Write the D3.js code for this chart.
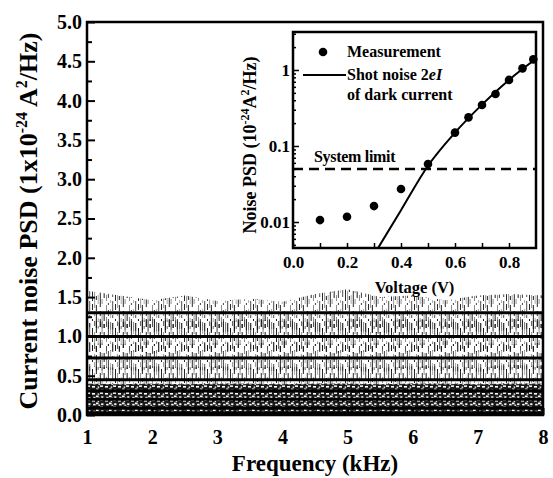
<!DOCTYPE html>
<html>
<head>
<meta charset="utf-8">
<script src="https://cdn.jsdelivr.net/npm/d3@7/dist/d3.min.js"></script>
<style>
  body { margin: 0; background: #fff; }
  svg { display: block; }
  text { font-family: "Liberation Serif", "Times New Roman", serif; font-weight: bold; fill: #000; }
</style>
</head>
<body>
<svg id="chart" width="553" height="478"></svg>
<script>
// ---- main panel: noise spectra ----
const freqKHz = [1, 1.5, 2, 2.5, 3, 3.5, 4, 4.5, 5, 5.5, 6, 6.5, 7, 7.5, 8]
// thick lines: mean PSD level of each spectrum
const levels = [1.30, 1.00, 0.725, 0.45, 0.31, 0.20, 0.09, 0.03]
// rough upper / lower noise envelope of each spectrum, read at freqKHz
const noiseHi = [
  [1.58, 1.52, 1.46, 1.52, 1.45, 1.48, 1.44, 1.54, 1.60, 1.50, 1.52, 1.46, 1.52, 1.54, 1.52],
  [1.20, 1.18, 1.22, 1.20, 1.18, 1.22, 1.20, 1.18, 1.22, 1.20, 1.22, 1.18, 1.20, 1.22, 1.20],
  [0.92, 0.90, 0.94, 0.90, 0.92, 0.90, 0.94, 0.92, 0.90, 0.92, 0.90, 0.94, 0.92, 0.90, 0.92],
  [0.62, 0.60, 0.62, 0.60, 0.62, 0.60, 0.62, 0.60, 0.62, 0.60, 0.62, 0.62, 0.60, 0.64, 0.62],
  [0.40, 0.39, 0.40, 0.39, 0.40, 0.40, 0.39, 0.40, 0.40, 0.39, 0.40, 0.40, 0.39, 0.40, 0.40],
  [0.28, 0.27, 0.28, 0.27, 0.28, 0.28, 0.27, 0.28, 0.28, 0.27, 0.28, 0.28, 0.27, 0.28, 0.28],
  [0.16, 0.15, 0.16, 0.15, 0.16, 0.16, 0.15, 0.16, 0.16, 0.15, 0.16, 0.16, 0.15, 0.16, 0.16],
  [0.07, 0.07, 0.07, 0.07, 0.07, 0.07, 0.07, 0.07, 0.07, 0.07, 0.07, 0.07, 0.07, 0.07, 0.07]
]
const noiseLo = [
  [1.12, 1.08, 1.06, 1.10, 1.05, 1.08, 1.10, 1.06, 1.08, 1.04, 1.08, 1.10, 1.06, 1.08, 1.10],
  [0.80, 0.82, 0.78, 0.82, 0.80, 0.84, 0.80, 0.82, 0.78, 0.82, 0.80, 0.82, 0.80, 0.82, 0.82],
  [0.56, 0.58, 0.55, 0.58, 0.56, 0.58, 0.55, 0.58, 0.56, 0.55, 0.58, 0.56, 0.55, 0.58, 0.58],
  [0.36, 0.37, 0.36, 0.37, 0.36, 0.37, 0.36, 0.37, 0.36, 0.37, 0.36, 0.37, 0.36, 0.37, 0.37],
  [0.25, 0.25, 0.25, 0.25, 0.25, 0.25, 0.25, 0.25, 0.25, 0.25, 0.25, 0.25, 0.25, 0.25, 0.25],
  [0.14, 0.14, 0.14, 0.14, 0.14, 0.14, 0.14, 0.14, 0.14, 0.14, 0.14, 0.14, 0.14, 0.14, 0.14],
  [0.05, 0.05, 0.05, 0.05, 0.05, 0.05, 0.05, 0.05, 0.05, 0.05, 0.05, 0.05, 0.05, 0.05, 0.05],
  [0.005, 0.005, 0.005, 0.005, 0.005, 0.005, 0.005, 0.005, 0.005, 0.005, 0.005, 0.005, 0.005, 0.005, 0.005]
]
const yTicks = [0, 0.5, 1, 1.5, 2, 2.5, 3, 3.5, 4, 4.5, 5]
const xTicks = [1, 2, 3, 4, 5, 6, 7, 8]

// ---- inset: PSD vs voltage ----
const voltage = [0.1, 0.2, 0.3, 0.4, 0.5, 0.6, 0.65, 0.7, 0.75, 0.8, 0.85, 0.89]
const measured = [0.0106, 0.0117, 0.0162, 0.0272, 0.058, 0.150, 0.238, 0.346, 0.483, 0.74, 1.05, 1.38]
const shotV = [0.316, 0.4, 0.5, 0.6, 0.7, 0.8, 0.9]
const shotPSD = [0.0046, 0.0143, 0.055, 0.15, 0.35, 0.74, 1.40]
const systemLimit = 0.05
const insetXTicks = [0, 0.2, 0.4, 0.6, 0.8]
const insetYTicks = [0.01, 0.1, 1]

const svg = d3.select('#chart')

// noise texture: broken vertical strokes for the spiky spectra
const defs = svg.append('defs')
const hatch = defs.append('pattern').attr('id', 'hatch')
  .attr('patternUnits', 'userSpaceOnUse').attr('width', 23).attr('height', 41)
const strokes = [
  [0.5, 0.9, 1.0, '14,3,6,9,2,7'], [2.6, 0.55, 0.8, '5,6,17,5,3,5'], [4.4, 0.85, 1.1, '19,4,4,5,6,3'],
  [6.2, 0.5, 0.7, '3,7,9,14,4,4'], [8.3, 0.9, 1.0, '8,5,16,4,5,3'], [10.1, 0.6, 0.8, '22,6,5,8'],
  [12.2, 0.8, 1.2, '4,4,7,14,9,3'], [14.5, 0.6, 0.8, '10,9,6,4,8,4'], [16.4, 0.9, 0.9, '6,3,20,5,2,5'],
  [18.6, 0.5, 0.7, '12,7,3,6,9,4'], [20.7, 0.75, 1.0, '3,5,15,4,10,4']
]
strokes.forEach(([px, op, w, dash], i) => {
  hatch.append('line').attr('x1', px).attr('x2', px).attr('y1', -((i * 7) % 19)).attr('y2', 41 + 30)
    .attr('stroke', '#111').attr('stroke-width', w).attr('stroke-opacity', op)
    .attr('stroke-dasharray', dash)
})
// dark speckled texture for the low-level spectra
const dense = defs.append('pattern').attr('id', 'dense')
  .attr('patternUnits', 'userSpaceOnUse').attr('width', 13).attr('height', 7)
dense.append('rect').attr('width', 13).attr('height', 7).attr('fill', '#1a1a1a')
;[[1, 1, 3, 1.6], [5, 3.5, 2.6, 1.8], [9, 0.4, 3, 1.5], [2.2, 4.8, 2.4, 1.6], [10.2, 4.3, 2.2, 1.8], [6.6, 1.5, 1.6, 1.3], [7.4, 5.6, 1.8, 1.2]].forEach(([rx, ry, w, h]) => {
  dense.append('rect').attr('x', rx).attr('y', ry).attr('width', w).attr('height', h).attr('fill', '#fff')
})

const x = d3.scaleLinear().domain([1, 8]).range([87, 543])
const y = d3.scaleLinear().domain([0, 5]).range([415, 22])

const band = d3.area()
  .x((d, i) => x(freqKHz[i]))
  .y0(d => y(d[0]))
  .y1(d => y(d[1]))

const traces = svg.append('g')
levels.forEach((lv, k) => {
  const pts = freqKHz.map((f, i) => [noiseLo[k][i], noiseHi[k][i]])
  traces.append('path')
    .datum(pts)
    .attr('d', band)
    .attr('fill', k < 4 ? 'url(#hatch)' : 'url(#dense)')
})
traces.selectAll('line.level')
  .data(levels)
  .enter()
  .append('line')
  .attr('class', 'level')
  .attr('x1', x(1)).attr('x2', x(8))
  .attr('y1', d => y(d)).attr('y2', d => y(d))
  .attr('stroke', '#000').attr('stroke-width', 3)

// main axes (ticks point inward)
const yAxis = d3.axisLeft(y).tickValues(yTicks).tickFormat(d3.format('.1f'))
  .tickSizeInner(-8).tickSizeOuter(0).tickPadding(5)
const yMinor = d3.axisLeft(y).tickValues(d3.range(0.25, 5, 0.5)).tickFormat('')
  .tickSizeInner(-5).tickSizeOuter(0)
const xAxis = d3.axisBottom(x).tickValues(xTicks).tickFormat(d3.format('d'))
  .tickSizeInner(-7).tickSizeOuter(0).tickPadding(15)
const xMinor = d3.axisBottom(x).tickValues(d3.range(1.5, 8, 1)).tickFormat('')
  .tickSizeInner(-4).tickSizeOuter(0)

const gy = svg.append('g').attr('transform', `translate(${x(1)},0)`).call(yAxis)
svg.append('g').attr('transform', `translate(${x(1)},0)`).call(yMinor)
const gx = svg.append('g').attr('transform', `translate(0,${y(0)})`).call(xAxis)
svg.append('g').attr('transform', `translate(0,${y(0)})`).call(xMinor)
svg.selectAll('.domain').remove()
svg.selectAll('.tick line').attr('stroke', '#000').attr('stroke-width', 2)
gy.selectAll('text').style('font-size', '20px')
gx.selectAll('text').style('font-size', '20px')

svg.append('rect')
  .attr('x', x(1)).attr('y', y(5))
  .attr('width', x(8) - x(1)).attr('height', y(0) - y(5))
  .attr('fill', 'none').attr('stroke', '#000').attr('stroke-width', 2.5)

svg.append('text')
  .attr('x', 315).attr('y', 471)
  .attr('text-anchor', 'middle')
  .style('font-size', '23px')
  .text('Frequency (kHz)')

const yl = svg.append('text')
  .attr('transform', 'translate(37,221) rotate(-90)')
  .attr('text-anchor', 'middle')
  .style('font-size', '26px')
yl.append('tspan').text('Current noise PSD (1x10')
yl.append('tspan').attr('dy', -10).style('font-size', '16px').text('-24')
yl.append('tspan').attr('dy', 10).text(' A')
yl.append('tspan').attr('dy', -10).style('font-size', '16px').text('2')
yl.append('tspan').attr('dy', 10).text('/Hz)')

// ---- inset ----
const ix = d3.scaleLinear().domain([0, 0.9]).range([293, 536])
const iy = d3.scaleLog().domain([0.00455, 3.16]).range([248, 32])

const inset = svg.append('g')
inset.append('rect')
  .attr('x', ix(0)).attr('y', iy.range()[1])
  .attr('width', ix(0.9) - ix(0)).attr('height', iy.range()[0] - iy.range()[1])
  .attr('fill', '#fff')

inset.append('defs').append('clipPath').attr('id', 'insetClip')
  .append('rect')
  .attr('x', ix(0)).attr('y', iy.range()[1])
  .attr('width', ix(0.9) - ix(0)).attr('height', iy.range()[0] - iy.range()[1])

inset.append('line')
  .attr('x1', ix(0)).attr('x2', ix(0.9))
  .attr('y1', iy(systemLimit)).attr('y2', iy(systemLimit))
  .attr('stroke', '#000').attr('stroke-width', 2.5)
  .attr('stroke-dasharray', '10,6')

const shotLine = d3.line()
  .x((d, i) => ix(shotV[i]))
  .y(d => iy(d))
  .curve(d3.curveMonotoneX)
inset.append('path')
  .datum(shotPSD)
  .attr('d', shotLine)
  .attr('clip-path', 'url(#insetClip)')
  .attr('fill', 'none').attr('stroke', '#000').attr('stroke-width', 2)

inset.selectAll('circle')
  .data(measured)
  .enter()
  .append('circle')
  .attr('cx', (d, i) => ix(voltage[i]))
  .attr('cy', d => iy(d))
  .attr('r', 4.3)
  .attr('fill', '#000')

const iyMinor = []
;[0.001, 0.01, 0.1, 1].forEach(dec => {
  for (let m = 2; m <= 9; m++) {
    const v = dec * m
    if (v > iy.domain()[0] && v < iy.domain()[1]) iyMinor.push(v)
  }
})

const ixAxis = d3.axisBottom(ix).tickValues(insetXTicks).tickFormat(d3.format('.1f'))
  .tickSizeInner(-5).tickSizeOuter(0).tickPadding(8)
const ixMinor = d3.axisBottom(ix).tickValues([0.1, 0.3, 0.5, 0.7]).tickFormat('')
  .tickSizeInner(-5).tickSizeOuter(0)
const iyAxis = d3.axisLeft(iy).tickValues(insetYTicks).tickFormat(d => d3.format('')(d))
  .tickSizeInner(-6).tickSizeOuter(0).tickPadding(3)
const iyMinorAxis = d3.axisLeft(iy).tickValues(iyMinor).tickFormat('')
  .tickSizeInner(-3).tickSizeOuter(0)

const gix = inset.append('g').attr('transform', `translate(0,${iy.range()[0]})`).call(ixAxis)
inset.append('g').attr('transform', `translate(0,${iy.range()[0]})`).call(ixMinor)
const giy = inset.append('g').attr('transform', `translate(${ix(0)},0)`).call(iyAxis)
inset.append('g').attr('transform', `translate(${ix(0)},0)`).call(iyMinorAxis)
inset.selectAll('.domain').remove()
inset.selectAll('.tick line').attr('stroke', '#000').attr('stroke-width', 1.5)
gix.selectAll('text').style('font-size', '17px')
giy.selectAll('text').style('font-size', '17px')

inset.append('rect')
  .attr('x', ix(0)).attr('y', iy.range()[1])
  .attr('width', ix(0.9) - ix(0)).attr('height', iy.range()[0] - iy.range()[1])
  .attr('fill', 'none').attr('stroke', '#000').attr('stroke-width', 2.5)

inset.append('text')
  .attr('x', (ix(0) + ix(0.9)) / 2).attr('y', 293)
  .attr('text-anchor', 'middle')
  .style('font-size', '16.5px')
  .text('Voltage (V)')

const iyl = inset.append('text')
  .attr('transform', 'translate(256,145) rotate(-90)')
  .attr('text-anchor', 'middle')
  .style('font-size', '18px')
iyl.append('tspan').text('Noise PSD (10')
iyl.append('tspan').attr('dy', -7).style('font-size', '12px').text('-24')
iyl.append('tspan').attr('dy', 7).text('A')
iyl.append('tspan').attr('dy', -7).style('font-size', '12px').text('2')
iyl.append('tspan').attr('dy', 7).text('/Hz)')

inset.append('text')
  .attr('x', 314).attr('y', 162)
  .style('font-size', '16px')
  .style('letter-spacing', '-0.3px')
  .text('System limit')

// legend
const legend = inset.append('g').style('font-size', '16px')
legend.append('circle').attr('cx', 323).attr('cy', 52).attr('r', 4.3).attr('fill', '#000')
legend.append('text').attr('x', 347).attr('y', 57).text('Measurement')
legend.append('line').attr('x1', 303).attr('x2', 346).attr('y1', 75).attr('y2', 75)
  .attr('stroke', '#000').attr('stroke-width', 2)
const shotLabel = legend.append('text').attr('x', 347).attr('y', 80)
shotLabel.append('tspan').text('Shot noise 2')
shotLabel.append('tspan').style('font-style', 'italic').text('eI')
legend.append('text').attr('x', 347).attr('y', 100).text('of dark current')
</script>
</body>
</html>
